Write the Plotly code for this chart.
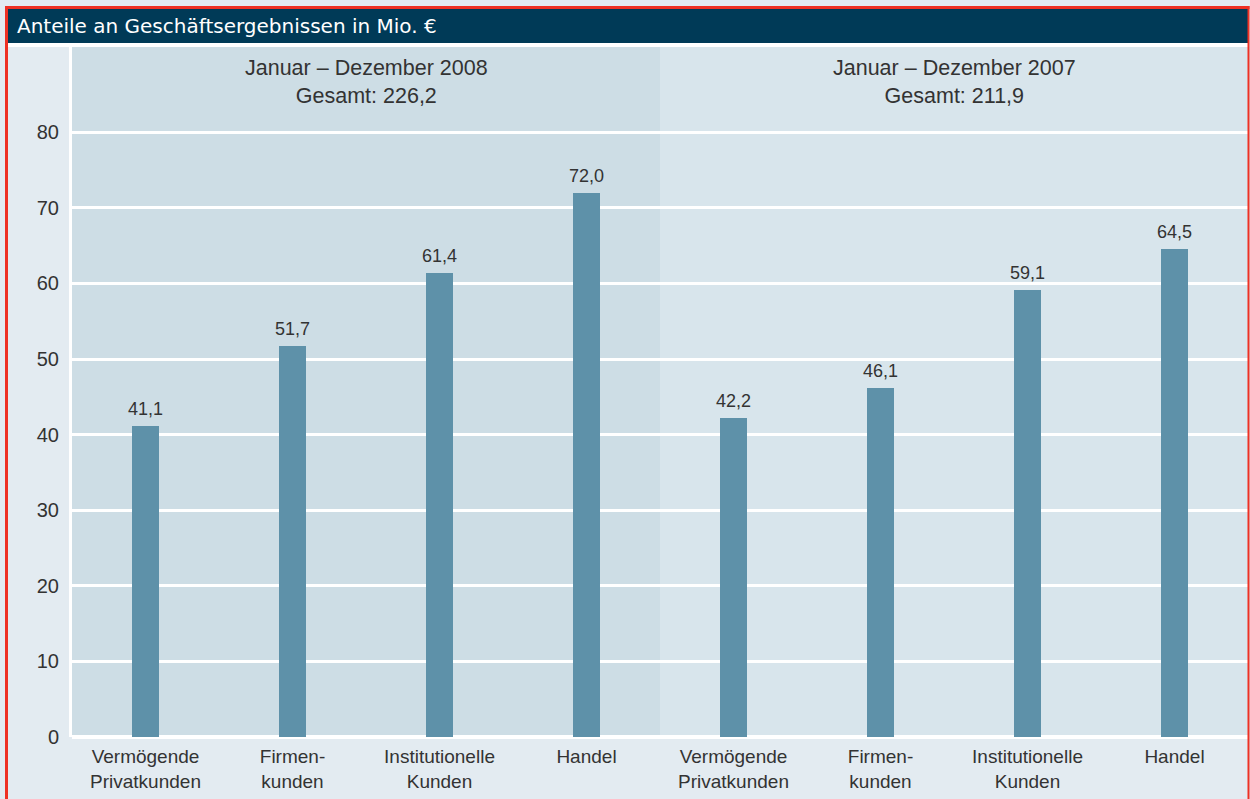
import plotly.graph_objects as go

categories = ["Vermögende<br>Privatkunden", "Firmen-<br>kunden", "Institutionelle<br>Kunden", "Handel",
              "Vermögende<br>Privatkunden", "Firmen-<br>kunden", "Institutionelle<br>Kunden", "Handel"]
values_2008 = [41.1, 51.7, 61.4, 72.0]
values_2007 = [42.2, 46.1, 59.1, 64.5]
panel_titles = ["Januar – Dezember 2008<br>Gesamt: 226,2", "Januar – Dezember 2007<br>Gesamt: 211,9"]
y_ticks = [0, 10, 20, 30, 40, 50, 60, 70, 80]
title = "Anteile an Geschäftsergebnissen in Mio. €"

values = values_2008 + values_2007
xs = list(range(len(values)))
labels = [f"{v:.1f}".replace(".", ",") for v in values]

W, H = 1250, 799
L, R, T, B = 72, 2, 47, 62
PW, PH = W - L - R, H - T - B

def px(x):
    return (x - L) / PW

def py(y):
    return (H - B - y) / PH

FONT = "Liberation Sans, Arial, sans-serif"
TFONT = "DejaVu Sans, sans-serif"
TXT = "#333333"
BAR = "#5e91a9"

fig = go.Figure()
fig.add_trace(go.Bar(
    x=xs, y=values, width=0.18, marker=dict(color=BAR, line=dict(width=0)),
    hoverinfo="skip",
))

shapes = [
    dict(type="rect", xref="paper", yref="paper", x0=0, x1=0.5, y0=0, y1=1,
         fillcolor="#cddde5", line=dict(width=0), layer="below"),
    dict(type="rect", xref="paper", yref="paper", x0=0.5, x1=1, y0=0, y1=1,
         fillcolor="#d8e5ec", line=dict(width=0), layer="below"),
    dict(type="rect", xref="paper", yref="paper", x0=px(8), x1=px(1248), y0=py(47), y1=py(43),
         fillcolor="white", line=dict(width=0), layer="above"),
    dict(type="line", xref="paper", yref="paper", x0=px(70.5), x1=px(70.5), y0=py(737), y1=py(45),
         line=dict(color="white", width=3), layer="above"),
    dict(type="rect", xref="paper", yref="paper", x0=px(8), x1=px(1248), y0=py(43), y1=py(9),
         fillcolor="#003a57", line=dict(width=0), layer="above"),
    dict(type="line", xref="paper", yref="paper", x0=px(6.5), x1=px(6.5), y0=py(799), y1=py(6),
         line=dict(color="#ee3124", width=3), layer="above"),
    dict(type="line", xref="paper", yref="paper", x0=px(5), x1=px(1249.5), y0=py(7.5), y1=py(7.5),
         line=dict(color="#ee3124", width=3), layer="above"),
    dict(type="line", xref="paper", yref="paper", x0=px(1248.5), x1=px(1248.5), y0=py(799), y1=py(6),
         line=dict(color="#ee3124", width=2), layer="above"),
]

annotations = [
    dict(text=title, xref="paper", yref="paper", x=px(15), y=py(26), xanchor="left", yanchor="middle",
         showarrow=False, font=dict(size=20, color="white", family=TFONT)),
    dict(text=panel_titles[0], xref="paper", yref="paper", x=0.25, y=py(82), xanchor="center", yanchor="middle",
         showarrow=False, font=dict(size=21.5, color=TXT, family=FONT)),
    dict(text=panel_titles[1], xref="paper", yref="paper", x=0.75, y=py(82), xanchor="center", yanchor="middle",
         showarrow=False, font=dict(size=21.5, color=TXT, family=FONT)),
]
for xi, v, lab in zip(xs, values, labels):
    annotations.append(dict(text=lab, x=xi, y=v, xref="x", yref="y", xanchor="center", yanchor="bottom",
                            yshift=5, showarrow=False, font=dict(size=18, color=TXT, family=FONT)))

fig.update_layout(
    width=W, height=H,
    margin=dict(l=L, r=R, t=T, b=B, pad=0),
    paper_bgcolor="#e3ebf1", plot_bgcolor="rgba(0,0,0,0)",
    showlegend=False, bargap=0,
    shapes=shapes, annotations=annotations,
    xaxis=dict(range=[-0.5, 7.5], tickmode="array", tickvals=xs, ticktext=categories,
               showgrid=False, zeroline=False, showline=False, ticks="", ticklabelstandoff=6,
               tickfont=dict(size=19, color=TXT, family=FONT), fixedrange=True),
    yaxis=dict(range=[0, PH / 7.56], tickmode="array", tickvals=y_ticks,
               showgrid=True, gridcolor="white", gridwidth=3,
               zeroline=True, zerolinecolor="white", zerolinewidth=4,
               showline=False, ticks="", ticklabelstandoff=12,
               tickfont=dict(size=20, color=TXT, family=FONT), fixedrange=True),
)

fig.write_html("out.html", config={"displayModeBar": False},
               post_script="document.body.style.margin='0';document.body.style.overflow='hidden';")
